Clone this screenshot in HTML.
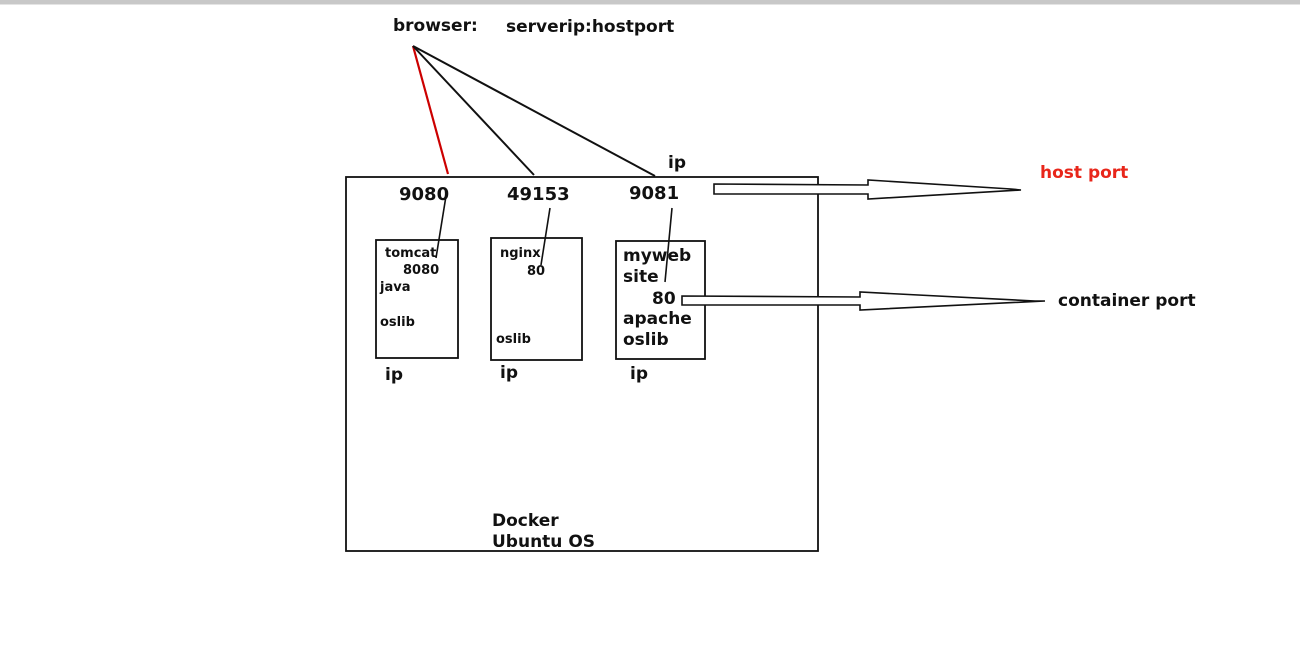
<!DOCTYPE html>
<html><head><style>
html,body{margin:0;padding:0;background:#fff;}
svg{display:block;}
text{font-family:"DejaVu Sans","Liberation Sans",sans-serif;font-weight:bold;fill:#111;}
</style></head><body>
<svg width="1300" height="672" viewBox="0 0 1300 672" xmlns="http://www.w3.org/2000/svg">
<rect x="0" y="0" width="1300" height="4" fill="#c8c8c8"/>
<rect x="0" y="4" width="1300" height="1" fill="#e4e4e4"/>
<text x="393" y="31" font-size="17">browser:</text>
<text x="506" y="32" font-size="17">serverip:hostport</text>
<line x1="413" y1="46" x2="448" y2="174" stroke="#c00" stroke-width="2.2"/>
<line x1="413" y1="46" x2="534" y2="175" stroke="#111" stroke-width="2"/>
<line x1="413" y1="46" x2="655" y2="176" stroke="#111" stroke-width="2"/>
<text x="668" y="168" font-size="17">ip</text>
<rect x="346" y="177" width="472" height="374" fill="none" stroke="#111" stroke-width="1.8"/>
<text x="399" y="200" font-size="18">9080</text>
<text x="507" y="200" font-size="18">49153</text>
<text x="629" y="199" font-size="18">9081</text>
<rect x="376" y="240" width="82" height="118" fill="none" stroke="#111" stroke-width="1.8"/>
<rect x="491" y="238" width="91" height="122" fill="none" stroke="#111" stroke-width="1.8"/>
<rect x="616" y="241" width="89" height="118" fill="none" stroke="#111" stroke-width="1.8"/>
<line x1="446" y1="196" x2="436" y2="258" stroke="#111" stroke-width="1.6"/>
<line x1="550" y1="208" x2="541" y2="265" stroke="#111" stroke-width="1.6"/>
<line x1="672" y1="208" x2="665" y2="282" stroke="#111" stroke-width="1.6"/>
<text x="385" y="257" font-size="13">tomcat</text>
<text x="403" y="274" font-size="13">8080</text>
<text x="380" y="291" font-size="13">java</text>
<text x="380" y="326" font-size="13">oslib</text>
<text x="500" y="257" font-size="13">nginx</text>
<text x="527" y="275" font-size="13">80</text>
<text x="496" y="343" font-size="13">oslib</text>
<text x="623" y="261" font-size="17">myweb</text>
<text x="623" y="282" font-size="17">site</text>
<text x="652" y="304" font-size="17">80</text>
<text x="623" y="324" font-size="17">apache</text>
<text x="623" y="345" font-size="17">oslib</text>
<text x="385" y="380" font-size="17">ip</text>
<text x="500" y="378" font-size="17">ip</text>
<text x="630" y="379" font-size="17">ip</text>
<text x="492" y="526" font-size="17">Docker</text>
<text x="492" y="547" font-size="17">Ubuntu OS</text>
<polygon points="714,184 868,185 868,180 1011,189 1021,190 868,199 868,194 714,194" fill="#fff" stroke="#111" stroke-width="1.6"/>
<polygon points="682,296 860,297 860,292 1035,301 1045,301 860,310 860,305 682,305" fill="#fff" stroke="#111" stroke-width="1.6"/>
<text x="1040" y="178" font-size="17" style="fill:#e8261a">host port</text>
<text x="1058" y="306" font-size="17">container port</text>
</svg>
</body></html>
